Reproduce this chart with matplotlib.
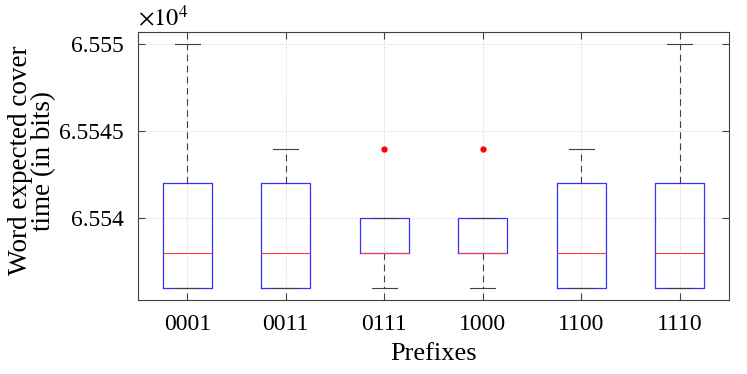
import matplotlib
matplotlib.use('Agg')
import matplotlib.pyplot as plt
from matplotlib.ticker import FuncFormatter

plt.rcParams['font.family'] = ['Liberation Serif', 'DejaVu Serif']
plt.rcParams['mathtext.fontset'] = 'stix'

# box statistics (bits)
prefixes = ['0001', '0011', '0111', '1000', '1100', '1110']
whisker_low = [65536, 65536, 65536, 65536, 65536, 65536]
q1 = [65536, 65536, 65538, 65538, 65536, 65536]
median = [65538, 65538, 65538, 65538, 65538, 65538]
q3 = [65542, 65542, 65540, 65540, 65542, 65542]
whisker_high = [65550, 65544, 65540, 65540, 65544, 65550]
outliers = [[], [], [65544], [65544], [], []]

stats = []
for i, name in enumerate(prefixes):
    stats.append({'label': name, 'whislo': whisker_low[i], 'q1': q1[i],
                  'med': median[i], 'q3': q3[i], 'whishi': whisker_high[i],
                  'fliers': outliers[i]})

fig = plt.figure(figsize=(7.47, 3.74), dpi=100)
ax = fig.add_axes([138 / 747, 1 - 300 / 374, 591 / 747, 268 / 374])

ax.bxp(stats, positions=range(1, 7), widths=0.5,
       boxprops=dict(color='#3030ff', linewidth=0.9),
       medianprops=dict(color='#ff4040', linewidth=0.8),
       whiskerprops=dict(color='#404040', linewidth=0.8, linestyle=(0, (6, 4))),
       capprops=dict(color='#404040', linewidth=0.8),
       flierprops=dict(marker='o', markerfacecolor='red', markeredgecolor='red',
                       markersize=3.5, linestyle='none'),
       capwidths=0.25)

ax.set_xlim(0.5, 6.5)
ax.set_ylim(65535.3, 65550.7)
ax.set_yticks([65540, 65545, 65550])
ax.yaxis.set_major_formatter(FuncFormatter(lambda v, p: '%g' % (v / 1e4)))
ax.text(0.0, 1.005, r'$\times10^4$', transform=ax.transAxes, fontsize=17.5,
        ha='left', va='bottom')

ax.grid(True, linestyle=':', color='#d0d0d0', linewidth=0.7)
ax.set_axisbelow(True)
ax.tick_params(direction='in', top=True, right=True, labelsize=17,
               color='#404040', length=5)
ax.tick_params(axis='y', pad=10)
ax.tick_params(axis='x', pad=10)
for s in ax.spines.values():
    s.set_color('#404040')
    s.set_linewidth(0.8)

ax.set_xlabel('Prefixes', fontsize=19, labelpad=6)
ax.set_ylabel('Word expected cover\ntime (in bits)', fontsize=19.5,
              linespacing=0.9)
ax.yaxis.set_label_coords(-0.139, 0.52)

fig.savefig('out.png', dpi=100)
